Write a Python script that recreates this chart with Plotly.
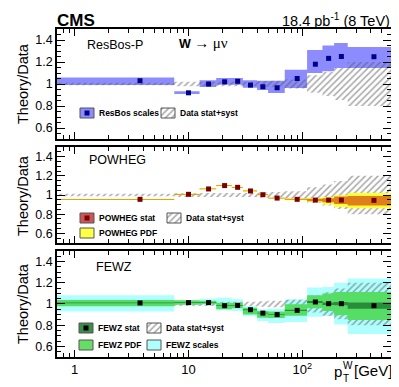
import plotly.graph_objects as go

# W pT bins (GeV) and bin centres
edges = [0.7, 7.5, 12.5, 17.5, 24, 30, 40, 50, 70, 110, 150, 190, 250, 600]
centers = [3.75, 10, 15, 20.75, 27, 35, 45, 60, 90, 130, 170, 220, 425]

# data stat+syst relative uncertainty (band around 1)
data_err = [0.012, 0.02, 0.02, 0.02, 0.02, 0.02, 0.025, 0.03, 0.04, 0.08, 0.11, 0.145, 0.2]

# ResBos-P
resbos = [1.03, 0.92, 1.0, 1.02, 1.025, 0.99, 0.975, 0.966, 1.05, 1.18, 1.233, 1.25, 1.248]
resbos_lo = [0.99, 0.91, 0.973, 0.994, 0.994, 0.965, 0.945, 0.918, 0.964, 1.10, 1.115, 1.145, 1.145]
resbos_hi = [1.06, 0.935, 1.034, 1.055, 1.055, 1.035, 1.03, 1.03, 1.13, 1.31, 1.35, 1.373, 1.336]

# POWHEG
powheg = [0.955, 1.007, 1.063, 1.098, 1.08, 1.042, 1.003, 0.968, 0.955, 0.947, 0.947, 0.947, 0.944]
powheg_stat_lo = [0.951, 1.003, 1.059, 1.094, 1.076, 1.038, 0.999, 0.964, 0.95, 0.935, 0.925, 0.905, 0.89]
powheg_stat_hi = [0.959, 1.011, 1.067, 1.102, 1.084, 1.046, 1.007, 0.972, 0.96, 0.96, 0.965, 0.985, 0.99]
powheg_pdf_lo = [0.948, 1.0, 1.056, 1.091, 1.073, 1.035, 0.996, 0.961, 0.945, 0.926, 0.90, 0.874, 0.863]
powheg_pdf_hi = [0.962, 1.014, 1.07, 1.105, 1.087, 1.049, 1.01, 0.975, 0.965, 0.97, 0.98, 0.997, 1.02]

# FEWZ
fewz = [1.01, 1.013, 1.013, 0.984, 0.987, 0.946, 0.914, 0.90, 0.94, 1.019, 1.003, 1.003, 0.984]
fewz_stat = [0.004, 0.004, 0.004, 0.004, 0.004, 0.004, 0.004, 0.004, 0.006, 0.01, 0.012, 0.015, 0.03]
fewz_pdf_lo = [0.978, 0.993, 1.0, 0.95, 0.96, 0.90, 0.87, 0.867, 0.89, 0.96, 0.933, 0.895, 0.848]
fewz_pdf_hi = [1.038, 1.035, 1.03, 1.012, 1.012, 0.965, 0.933, 0.93, 0.997, 1.083, 1.10, 1.114, 1.114]
fewz_scale_lo = [0.93, 0.995, 0.988, 0.94, 0.933, 0.886, 0.84, 0.82, 0.83, 0.88, 0.886, 0.806, 0.717]
fewz_scale_hi = [1.083, 1.03, 1.05, 1.06, 1.045, 0.98, 0.95, 0.952, 1.045, 1.155, 1.16, 1.2, 1.24]

FONT = "Liberation Sans, Arial, sans-serif"
HATCH = dict(shape="/", fgcolor="#555555", bgcolor="rgba(0,0,0,0)", size=4.5, solidity=0.35, fillmode="overlay")

# plot area in pixels (for text placement)
L, R, T, B = 49, 383, 21, 349

fig = go.Figure()


def band(lo, hi, color, xa, ya, pattern=None):
    xs, ys = [], []
    for i in range(len(lo)):
        xs += [edges[i], edges[i + 1], edges[i + 1], edges[i], edges[i], None]
        ys += [lo[i], lo[i], hi[i], hi[i], lo[i], None]
    kw = dict(fillpattern=pattern) if pattern else {}
    fig.add_trace(go.Scatter(x=xs, y=ys, fill="toself", fillcolor=color, mode="lines",
                             line=dict(width=0), xaxis=xa, yaxis=ya, hoverinfo="skip",
                             showlegend=False, **kw))


def points(vals, color, xa, ya):
    fig.add_trace(go.Scatter(x=centers, y=vals, mode="markers", xaxis=xa, yaxis=ya,
                             marker=dict(symbol="square", size=5, color=color),
                             showlegend=False))


def data_band(xa, ya):
    band([1 - e for e in data_err], [1 + e for e in data_err], "rgba(0,0,0,0)", xa, ya, HATCH)


# panel 1: ResBos
band(resbos_lo, resbos_hi, "#8c8cff", "x", "y")
data_band("x", "y")
points(resbos, "#00008b", "x", "y")

# panel 2: POWHEG
data_band("x2", "y2")
band(powheg_pdf_lo, powheg_pdf_hi, "#ffff33", "x2", "y2")
band(powheg_stat_lo, powheg_stat_hi, "rgba(215,95,20,0.8)", "x2", "y2")
points(powheg, "#7a0000", "x2", "y2")

# panel 3: FEWZ
band(fewz_scale_lo, fewz_scale_hi, "#b0ffff", "x3", "y3")
data_band("x3", "y3")
band(fewz_pdf_lo, fewz_pdf_hi, "#55dd66", "x3", "y3")
band([v - s for v, s in zip(fewz, fewz_stat)], [v + s for v, s in zip(fewz, fewz_stat)],
     "#2a8c3a", "x3", "y3")
points(fewz, "#000000", "x3", "y3")

# legend swatches drawn on a pixel-coordinate overlay axis
annotations = []


def label(x, y, text, size, anchor="left", angle=0):
    annotations.append(dict(x=(x - L) / (R - L), y=(B - y) / (B - T), xref="paper", yref="paper",
                            text=text, xanchor=anchor, yanchor="middle", showarrow=False,
                            textangle=angle, font=dict(size=size, family=FONT, color="black")))


def swatch(x0, y0, text, color, marker=None, pattern=None, w=14, h=10):
    xs = [x0, x0 + w, x0 + w, x0, x0]
    ys = [y0, y0, y0 + h, y0 + h, y0]
    kw = dict(fillpattern=pattern) if pattern else {}
    fig.add_trace(go.Scatter(x=xs, y=ys, fill="toself", fillcolor=color, mode="lines",
                             line=dict(color="#555555", width=1), xaxis="x4", yaxis="y4",
                             hoverinfo="skip", showlegend=False, **kw))
    if marker:
        fig.add_trace(go.Scatter(x=[x0 + w / 2], y=[y0 + h / 2], mode="markers",
                                 marker=dict(symbol="square", size=5, color=marker),
                                 xaxis="x4", yaxis="y4", hoverinfo="skip", showlegend=False))
    label(x0 + w + 3, y0 + h / 2, "<b>%s</b>" % text, 8.5)


swatch(72, 100, "ResBos scales", "#8c8cff", marker="#00008b")
swatch(153, 100, "Data stat+syst", "rgba(0,0,0,0)", pattern=HATCH)
swatch(72, 205, "POWHEG stat", "#cc5555", marker="#7a0000")
swatch(159, 205, "Data stat+syst", "rgba(0,0,0,0)", pattern=HATCH)
swatch(72, 220, "POWHEG PDF", "#ffff44")
swatch(71, 315, "FEWZ stat", "#3c8c4c", marker="#000000")
swatch(139, 315, "Data stat+syst", "rgba(0,0,0,0)", pattern=HATCH)
swatch(71, 332, "FEWZ PDF", "#66dd66")
swatch(139, 332, "FEWZ scales", "#b0ffff")

label(47, 12, "<b>CMS</b>", 17)
label(384, 12, "18.4 pb<sup>-1</sup> (8 TeV)", 14.5, anchor="right")
label(77, 37, "ResBos-P", 12.5)
label(169, 34, "<b>W</b> <span style='font-size:15px'>\u2192</span> "
               "<span style='font-family:Liberation Serif;font-size:15px'>\u03bc\u03bd</span>", 12.5)
label(79, 152, "POWHEG", 12.5)
label(86, 259, "FEWZ", 12.5)
for yc in (76, 188, 296):
    label(15, yc, "Theory/Data", 14.5, anchor="center", angle=-90)
label(324, 363, "p", 15)
label(333, 357, "W", 10)
label(333, 370, "T", 10)
label(344, 362, "[GeV]", 15)

# axes
minor_x = [0.7, 0.8, 0.9] + [m * d for d in (1, 10, 100) for m in range(2, 10)]
minor_x = sorted(v for v in minor_x if 0.7 <= v <= 600)
xcommon = dict(type="log", range=[-0.1549, 2.7782], ticks="inside", ticklen=7, tickwidth=1,
               tickvals=[1, 10, 100], ticktext=["1", "10", "10<sup>2</sup>"],
               minor=dict(tickvals=minor_x, ticks="inside", ticklen=4, tickcolor="black"),
               showline=True, linecolor="black", linewidth=1.5, mirror="allticks",
               showgrid=False, zeroline=False, tickcolor="black",
               tickfont=dict(size=13, family=FONT, color="black"))
ycommon = dict(range=[0.5, 1.5], ticks="inside", ticklen=8, tickwidth=1,
               tickvals=[0.6, 0.8, 1.0, 1.2, 1.4], ticktext=["0.6", "0.8", "1", "1.2", "1.4"],
               minor=dict(dtick=0.05, tick0=0.5, ticks="inside", ticklen=4, tickcolor="black"),
               showline=True, linecolor="black", linewidth=1.5, mirror="allticks",
               showgrid=False, zeroline=False, tickcolor="black",
               tickfont=dict(size=12.5, family=FONT, color="black"))

doms = {"": [0.6646, 1.0], "2": [0.3476, 0.6402], "3": [0.0, 0.3232]}
lay = {}
for k, d in doms.items():
    lay["xaxis" + k] = dict(xcommon, anchor="y" + k, showticklabels=(k == "3"))
    lay["yaxis" + k] = dict(ycommon, anchor="x" + k, domain=d)
lay["xaxis4"] = dict(range=[L, R], domain=[0, 1], visible=False, anchor="y4")
lay["yaxis4"] = dict(range=[B, T], domain=[0, 1], visible=False, anchor="x4")

fig.update_layout(**lay)
fig.update_layout(width=399, height=387, margin=dict(l=L, r=399 - R, t=T, b=387 - B),
                  plot_bgcolor="rgba(0,0,0,0)", paper_bgcolor="white",
                  showlegend=False, annotations=annotations, font=dict(family=FONT))

fig.write_html("out.html")
